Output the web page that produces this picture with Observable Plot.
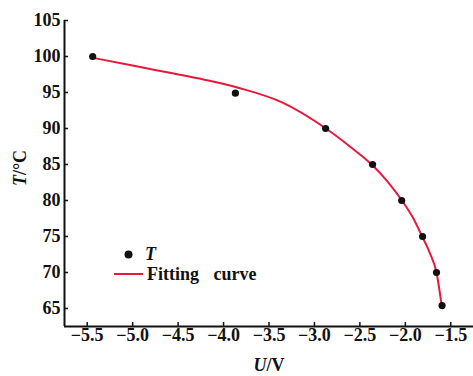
<!DOCTYPE html>
<html>
<head>
<meta charset="utf-8">
<script src="https://cdn.jsdelivr.net/npm/d3@7"></script>
<script src="https://cdn.jsdelivr.net/npm/@observablehq/plot@0.6"></script>
<style>
  body { margin: 0; background: #fff; }
  #chart svg { font-family: "Liberation Serif", "Times New Roman", serif; word-spacing: 10px; }
</style>
</head>
<body>
<div id="chart"></div>
<script>
// Measured points
const voltage = [-5.44, -3.87, -2.877, -2.36, -2.04, -1.81, -1.657, -1.596];
const temperature = [100, 94.9, 90, 85, 80, 75, 70, 65.4];
// Fitting curve
const curveU = [-5.43, -5.0, -4.62, -4.2, -3.82, -3.35, -2.885, -2.6, -2.37, -2.2, -2.04, -1.92, -1.815, -1.73, -1.657, -1.6];
const curveT = [99.8, 98.75, 97.8, 96.75, 95.6, 93.6, 90.1, 87.4, 85.0, 82.7, 80.05, 77.7, 75.0, 72.7, 70.0, 65.4];
const xTicks = [-5.5, -5.0, -4.5, -4.0, -3.5, -3.0, -2.5, -2.0, -1.5];
const yTicks = [65, 70, 75, 80, 85, 90, 95, 100, 105];
const xDomain = [-5.75, -1.25];
const yDomain = [62.5, 105];

const points = voltage.map((u, i) => ({u, t: temperature[i]}));
const fit = curveU.map((u, i) => ({u, t: curveT[i]}));
const fmt = d => d.toFixed(1).replace("-", "\u2212");

const red = "#e6193c";
const plot = Plot.plot({
  width: 473,
  height: 376,
  marginLeft: 64,
  marginRight: 0,
  marginTop: 20,
  marginBottom: 50,
  style: {fontSize: "18px", fontWeight: "bold", color: "#111", background: "#fff"},
  x: {domain: xDomain},
  y: {domain: yDomain},
  marks: [
    Plot.axisX({ticks: xTicks, tickFormat: fmt, tickSize: -4, tickPadding: 6, label: null, strokeWidth: 1.5}),
    Plot.axisY({ticks: yTicks, tickSize: -4, tickPadding: 8, label: null, strokeWidth: 1.5}),
    Plot.ruleX([xDomain[0]], {stroke: "#111", strokeWidth: 2}),
    Plot.ruleY([yDomain[0]], {stroke: "#111", strokeWidth: 2}),
    Plot.line(fit, {x: "u", y: "t", stroke: red, strokeWidth: 2, curve: "monotone-x"}),
    Plot.dot(points, {x: "u", y: "t", r: 3.6, fill: "#111", stroke: "none"}),
    // legend symbol
    Plot.dot([0], {frameAnchor: "top-left", dx: 64, dy: 234, r: 4, fill: "#111"})
  ]
});
document.getElementById("chart").appendChild(plot);

const svg = d3.select(plot);
// legend line and texts
const lg = svg.append("g").attr("text-anchor", "start").attr("fill", "#111")
  .attr("font-size", 18).attr("font-weight", "bold");
lg.append("line").attr("x1", 114).attr("x2", 143).attr("y1", 274).attr("y2", 274)
  .attr("stroke", red).attr("stroke-width", 2);
lg.append("text").attr("x", 145).attr("y", 254).attr("dy", "0.35em")
  .attr("font-style", "italic").text("T");
lg.append("text").attr("x", 147).attr("y", 274).attr("dy", "0.35em").text("Fitting curve");
// axis labels
const yl = svg.append("text").attr("transform", "translate(26,168) rotate(-90)")
  .attr("text-anchor", "middle").attr("font-size", 18).attr("font-weight", "bold").attr("fill", "#111");
yl.append("tspan").attr("font-style", "italic").text("T");
yl.append("tspan").text("/°C");
const xl = svg.append("text").attr("x", 269).attr("y", 371)
  .attr("text-anchor", "middle").attr("font-size", 18).attr("font-weight", "bold").attr("fill", "#111");
xl.append("tspan").attr("font-style", "italic").text("U");
xl.append("tspan").text("/V");
</script>
</body>
</html>
